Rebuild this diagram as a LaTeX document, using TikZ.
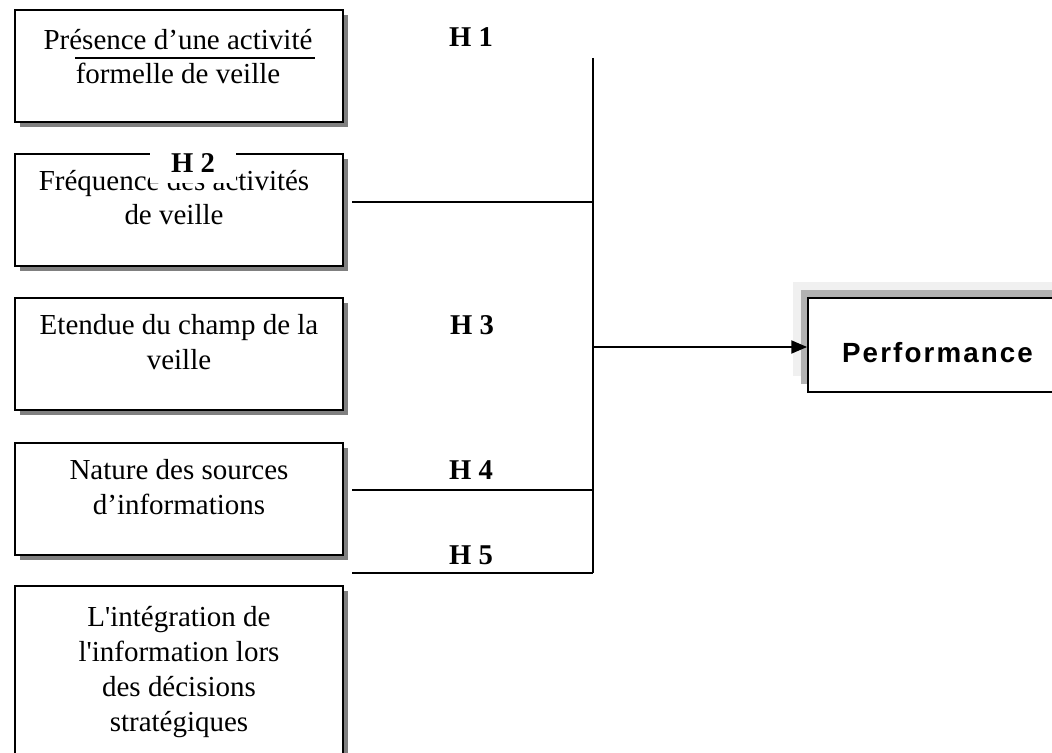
\documentclass[tikz,border=0pt]{standalone}
\usepackage{fontspec}
\setmainfont{Liberation Serif}
\newfontfamily\straightserif[Ligatures=TeXOff]{Liberation Serif}
\newfontfamily\perffont[LetterSpace=7.6]{Liberation Sans}
\usetikzlibrary{arrows.meta,shadows}

\begin{document}
\begin{tikzpicture}[x=0.02cm, y=-0.02cm, >={Triangle[length=9pt, width=7.5pt]},
  varbox/.style={draw, line width=1.1pt, fill=white, minimum width=6.56cm, minimum height=2.24cm,
    inner sep=0pt, general shadow={fill=black!50, shadow xshift=3pt, shadow yshift=-3pt}},
  vartext/.style={align=center, inner sep=0pt, font=\fontsize{16.5}{20}\selectfont},
  hyp/.style={inner sep=0pt, font=\bfseries\fontsize{16.3}{18}\selectfont},
  link/.style={line width=0.85pt}]
  \useasboundingbox (0,0) rectangle (1052,753);
  % ---------------------------------------------------------------- the five dimensions of the watch activity
  \node[varbox] (b1) at (179,66) {};
  \node[varbox] (b2) at (179,210) {};
  \node[varbox] (b3) at (179,354) {};
  \node[varbox] (b4) at (179,499) {};
  \node[varbox, minimum height=3.8cm] (b5) at (179,681) {};
  \node[vartext, font=\fontsize{16.5}{19.2}\selectfont] (t1) at (178,56.5) {Présence d’une activité\\formelle de veille};
  \draw[link] (75,58) -- (315,58);
  \node[vartext, font=\fontsize{16.5}{19.8}\selectfont] (t2) at (174,197.5) {Fréquence des activités\\de veille};
  \node[vartext] (t3) at (179,342) {Etendue du champ de la\\veille};
  \node[vartext] (t4) at (179,487) {Nature des sources\\d’informations};
  \node[vartext, font=\straightserif\fontsize{16.5}{20}\selectfont] (t5) at (179,672) {L'intégration de\\l'information lors\\des décisions\\stratégiques};
  % ---------------------------------------------------------------- the outcome
  \node[draw, line width=1.1pt, fill=white, minimum width=5.2cm, minimum height=1.88cm, inner sep=0pt,
    general shadow={fill=black!6, shadow xshift=-8.5pt, shadow yshift=9pt},
    general shadow={fill=black!30, shadow xshift=-4pt, shadow yshift=4.5pt}] (perf) at (938,345) {};
  \node[anchor=base, inner sep=0pt, font=\perffont\bfseries\fontsize{15.8}{18}\selectfont] (perftext) at (937.5,362) {Performance};
  % ---------------------------------------------------------------- the hypotheses
  \coordinate (top) at (593,58);
  \coordinate (bot) at (593,573);
  \coordinate (hub) at (593,347);
  \coordinate (s2) at (352,202);
  \coordinate (s4) at (352,490);
  \coordinate (s5) at (352,573);
  \draw[link] (top) -- (bot);
  \draw[link] (s2) -- (s2 -| top);
  \draw[link] (s4) -- (s4 -| top);
  \draw[link] (s5) -- (s5 -| top);
  \draw[link, ->] (hub) -- (hub -| perf.west);
  \node[hyp] (h1) at (471,37) {H 1};
  \node[hyp, fill=white, inner xsep=12pt, minimum height=0.8cm] (h2) at (193,163) {H 2};
  \node[hyp] (h3) at (472,325) {H 3};
  \node[hyp] (h4) at (471,470) {H 4};
  \node[hyp] (h5) at (471,555) {H 5};
\end{tikzpicture}
\end{document}
